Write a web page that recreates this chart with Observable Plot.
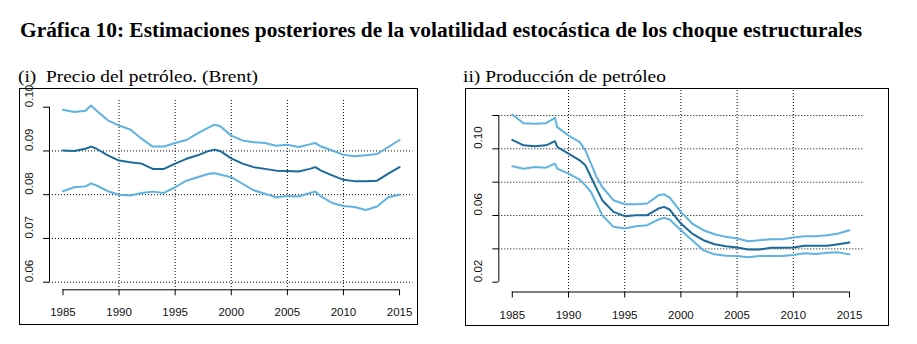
<!DOCTYPE html>
<html><head><meta charset="utf-8">
<script src="https://cdn.jsdelivr.net/npm/d3@7"></script>
<script src="https://cdn.jsdelivr.net/npm/@observablehq/plot@0.6"></script>
<style>
html,body{margin:0;padding:0;background:#fff;}
body{width:917px;height:344px;overflow:hidden;position:relative;font-family:"Liberation Serif","Times New Roman",serif;color:#000;}
.txt{position:absolute;white-space:pre;line-height:1;transform-origin:0 0;}
#title{left:20px;top:20px;font-size:20px;font-weight:bold;}
.sub{font-size:17px;top:68px;}
.box{position:absolute;border:1px solid #000;box-sizing:border-box;}
.panel{position:absolute;}
.panel svg text{font-size:11.5px;font-family:"Liberation Sans",Arial,sans-serif;fill:#111;}
</style></head><body>
<div id="title" class="txt">Gráfica 10: Estimaciones posteriores de la volatilidad estocástica de los choque estructurales</div>
<div id="sub1" class="txt sub" style="left:18px">(i)  Precio del petróleo. (Brent)</div>
<div id="sub2" class="txt sub" style="left:463px">ii) Producción de petróleo</div>
<div class="box" style="left:19px;top:88px;width:399px;height:237px"></div>
<div class="box" style="left:465px;top:88px;width:424px;height:238px"></div>
<div id="p1" class="panel" style="left:19px;top:88px"></div>
<div id="p2" class="panel" style="left:465px;top:88px"></div>
<script>
// ---- data ----
const xTicks = [1985, 1990, 1995, 2000, 2005, 2010, 2015];
const vGrid = [1990, 1995, 2000, 2005, 2010];

// Panel (i): Precio del petróleo (Brent)
const yearsA = [1985,1986,1987,1987.5,1988,1989,1990,1991,1992,1993,1994,1995,1996,1997,1998,1998.5,1999,2000,2001,2002,2003,2004,2005,2006,2007,2007.5,2008,2009,2010,2011,2012,2013,2014,2015];
const upperA = [.0994,.0989,.0992,.1004,.0992,.0970,.0958,.0949,.0928,.0910,.0910,.0918,.0925,.0940,.0954,.0960,.0957,.0935,.0924,.0920,.0918,.0912,.0914,.0909,.0915,.0918,.0910,.0901,.0891,.0888,.0890,.0893,.0909,.0925];
const medianA = [.0901,.0900,.0905,.0910,.0905,.0890,.0878,.0874,.0871,.0859,.0859,.0871,.0882,.0890,.0900,.0903,.0900,.0883,.0871,.0863,.0859,.0855,.0854,.0853,.0859,.0863,.0855,.0844,.0834,.0831,.0831,.0832,.0848,.0863];
const lowerA = [.0808,.0817,.0819,.0826,.0821,.0808,.0800,.0798,.0804,.0807,.0804,.0817,.0832,.0840,.0848,.0849,.0846,.0840,.0825,.0810,.0802,.0794,.0797,.0796,.0804,.0807,.0796,.0781,.0774,.0772,.0765,.0773,.0794,.0800];
const yTicksA = [0.06, 0.07, 0.08, 0.09, 0.10];
const yLabelsA = [0.06, 0.07, 0.08, 0.09, 0.10];
const hGridA = [0.06, 0.07, 0.08, 0.09];

// Panel (ii): Producción de petróleo
const yearsB = [1985,1986,1987,1988,1988.8,1989,1990,1991,1991.5,1992,1992.5,1993,1994,1995,1996,1997,1998,1998.5,1999,2000,2001,2002,2003,2004,2005,2006,2007,2008,2009,2010,2011,2012,2013,2014,2015];
const upperB = [.1206,.1154,.1150,.1154,.1186,.1130,.1080,.1040,.0991,.0911,.0831,.0771,.0692,.0668,.0668,.0672,.0721,.0727,.0707,.0622,.0552,.0512,.0488,.0472,.0462,.0446,.0452,.0458,.0458,.0468,.0476,.0476,.0482,.0492,.0512];
const medianB = [.1054,.1021,.1015,.1021,.1046,.1011,.0971,.0931,.0901,.0831,.0761,.0692,.0622,.0596,.0602,.0602,.0642,.0652,.0636,.0552,.0492,.0452,.0428,.0416,.0408,.0396,.0396,.0406,.0406,.0408,.0418,.0418,.0418,.0428,.0438];
const lowerB = [.0895,.0881,.0891,.0887,.0911,.0881,.0851,.0815,.0781,.0741,.0672,.0602,.0532,.0522,.0536,.0542,.0576,.0586,.0576,.0512,.0452,.0392,.0367,.0359,.0357,.0349,.0357,.0357,.0357,.0363,.0373,.0369,.0377,.0379,.0367];
const yTicksB = [0.02, 0.04, 0.06, 0.08, 0.10, 0.12];
const yLabelsB = [0.02, 0.06, 0.10];
const hGridB = [0.04, 0.06, 0.08, 0.10, 0.12];

const DARK = "#1a6a9c", LIGHT = "#5fb3e0";

function panel(o) {
  const grid = {stroke: "#000", strokeWidth: 1, strokeDasharray: "1,2"};
  return Plot.plot({
    width: o.width, height: o.height,
    marginLeft: o.mL, marginRight: o.mR, marginTop: o.mT, marginBottom: o.mB,
    x: {domain: o.xDom},
    y: {domain: o.yDom},
    style: {fontFamily: "'Liberation Sans', Arial, sans-serif", fontSize: "11.5px", color: "#000", background: "transparent", overflow: "visible"},
    marks: [
      Plot.ruleY(o.hGrid, grid),
      Plot.ruleX(vGrid, grid),
      Plot.ruleY([o.yDom[0]], {x1: () => xTicks[0], x2: () => xTicks[xTicks.length - 1], stroke: "#000"}),
      Plot.ruleX([o.xDom[0]], {y1: () => o.yTicks[0], y2: () => o.yTicks[o.yTicks.length - 1], stroke: "#000"}),
      Plot.axisX({ticks: xTicks, tickSize: 6, tickPadding: o.xPad, tickFormat: d => String(d), label: null}),
      Plot.axisY({ticks: o.yTicks, tickSize: 6, tickFormat: () => "", label: null}),
      Plot.text(o.yLabels, {y: d => d, text: d => d.toFixed(2), frameAnchor: "left", dx: -20.5, rotate: -90}),
      Plot.line(o.years, {x: o.years, y: o.lower, stroke: LIGHT, strokeWidth: 2}),
      Plot.line(o.years, {x: o.years, y: o.upper, stroke: LIGHT, strokeWidth: 2}),
      Plot.line(o.years, {x: o.years, y: o.median, stroke: DARK, strokeWidth: 2})
    ]
  });
}

document.getElementById("p1").append(panel({
  width: 399, height: 237, mL: 30, mR: 5.5, mT: 12, mB: 35.7,
  xDom: [1983.8, 2016.2], yDom: [0.05826, 0.10153],
  yTicks: yTicksA, yLabels: yLabelsA, hGrid: hGridA, xPad: 12,
  years: yearsA, upper: upperA, median: medianA, lower: lowerA
}));
document.getElementById("p2").append(panel({
  width: 424, height: 238, mL: 33.3, mR: 26.5, mT: 2, mB: 34.5,
  xDom: [1983.8, 2016.2], yDom: [0.01412, 0.135],
  yTicks: yTicksB, yLabels: yLabelsB, hGrid: hGridB, xPad: 13,
  years: yearsB, upper: upperB, median: medianB, lower: lowerB
}));

// fit the heading texts to the widths seen in the reference
function fit(id, w) {
  const el = document.getElementById(id);
  const r = el.getBoundingClientRect().width;
  el.style.transform = `scaleX(${w / r})`;
}
fit("title", 842);
fit("sub1", 240);
fit("sub2", 203);
</script>
</body></html>
